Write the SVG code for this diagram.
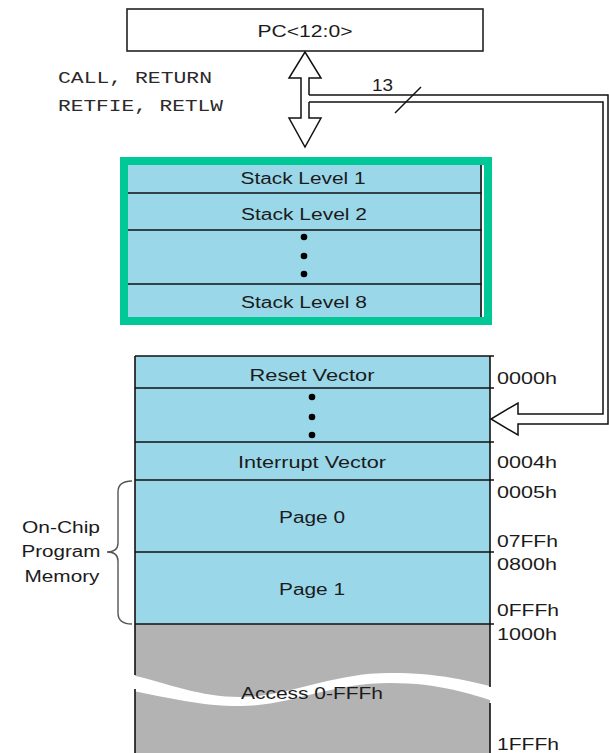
<svg xmlns="http://www.w3.org/2000/svg" width="609" height="753" viewBox="0 0 609 753">
<style>
.t{font-family:"Liberation Sans",Arial,sans-serif;font-size:16px;fill:#1b1b1b}
.m{font-family:"Liberation Mono","Courier New",monospace;font-size:17px;fill:#2a2a2a}
.c{text-anchor:middle}
.ln{stroke:#111;stroke-width:1.6;fill:none}
.blue{fill:#9ad8e9}
.gray{fill:#b3b3b3}
.dot{fill:#000}
</style>
<rect x="0" y="0" width="609" height="753" fill="#fff"/>

<g id="pc">
  <rect x="127" y="9" width="356" height="42" fill="#fff" stroke="#222" stroke-width="1.6"/>
  <text class="t c" x="305" y="37" textLength="95" lengthAdjust="spacingAndGlyphs">PC&lt;12:0&gt;</text>
</g>

<g id="instr-label">
  <text class="m" x="58" y="83" textLength="154" lengthAdjust="spacingAndGlyphs">CALL, RETURN</text>
  <text class="m" x="58" y="111" textLength="165" lengthAdjust="spacingAndGlyphs">RETFIE, RETLW</text>
</g>

<g id="stack">
  <rect class="blue" x="128" y="165" width="354" height="152"/>
  <line class="ln" x1="128" y1="193" x2="482" y2="193"/>
  <line class="ln" x1="128" y1="230" x2="482" y2="230"/>
  <line class="ln" x1="128" y1="284" x2="482" y2="284"/>
  <line class="ln" x1="481" y1="165" x2="481" y2="317"/>
  <text class="t c" x="303" y="184" textLength="125" lengthAdjust="spacingAndGlyphs">Stack Level 1</text>
  <text class="t c" x="304" y="220" textLength="126" lengthAdjust="spacingAndGlyphs">Stack Level 2</text>
  <circle class="dot" cx="304" cy="237" r="3.3"/>
  <circle class="dot" cx="304" cy="256" r="3.3"/>
  <circle class="dot" cx="304" cy="274" r="3.3"/>
  <text class="t c" x="304" y="308" textLength="126" lengthAdjust="spacingAndGlyphs">Stack Level 8</text>
  <rect x="124" y="161" width="364" height="160" fill="none" stroke="#00c896" stroke-width="8"/>
</g>

<g id="memory">
  <rect class="blue" x="135" y="356" width="355" height="268"/>
  <rect class="gray" x="135" y="624" width="355" height="129"/>
  <path d="M128,674 C170,684 200,697 240,697 C290,697 330,673 390,673 C440,673 470,681 497,688 L497,702 C470,694 440,683 390,683 C330,683 290,706 240,706 C200,706 170,698 128,690 Z" fill="#fff"/>
  <line class="ln" x1="135" y1="356" x2="494" y2="356"/>
  <line class="ln" x1="135" y1="388" x2="494" y2="388"/>
  <line class="ln" x1="135" y1="442" x2="494" y2="442"/>
  <line class="ln" x1="135" y1="480" x2="494" y2="480"/>
  <line class="ln" x1="135" y1="552" x2="494" y2="552"/>
  <line class="ln" x1="135" y1="624" x2="494" y2="624"/>
  <line class="ln" x1="135" y1="356" x2="135" y2="675"/>
  <line class="ln" x1="135" y1="689" x2="135" y2="753"/>
  <line class="ln" x1="490" y1="356" x2="490" y2="687"/>
  <line class="ln" x1="490" y1="703" x2="490" y2="753"/>
  <text class="t c" x="312" y="381" textLength="125" lengthAdjust="spacingAndGlyphs">Reset Vector</text>
  <circle class="dot" cx="312" cy="397" r="3.3"/>
  <circle class="dot" cx="312" cy="417" r="3.3"/>
  <circle class="dot" cx="312" cy="435" r="3.3"/>
  <text class="t c" x="312" y="468" textLength="148" lengthAdjust="spacingAndGlyphs">Interrupt Vector</text>
  <text class="t c" x="312" y="523" textLength="66" lengthAdjust="spacingAndGlyphs">Page 0</text>
  <text class="t c" x="312" y="595" textLength="66" lengthAdjust="spacingAndGlyphs">Page 1</text>
  <text class="t c" x="312" y="699" textLength="142" lengthAdjust="spacingAndGlyphs">Access 0-FFFh</text>
</g>

<g id="addresses">
  <text class="t" x="497" y="384" textLength="60" lengthAdjust="spacingAndGlyphs">0000h</text>
  <text class="t" x="497" y="468" textLength="60" lengthAdjust="spacingAndGlyphs">0004h</text>
  <text class="t" x="497" y="498" textLength="60" lengthAdjust="spacingAndGlyphs">0005h</text>
  <text class="t" x="497" y="547" textLength="61" lengthAdjust="spacingAndGlyphs">07FFh</text>
  <text class="t" x="497" y="570" textLength="60" lengthAdjust="spacingAndGlyphs">0800h</text>
  <text class="t" x="497" y="616" textLength="62" lengthAdjust="spacingAndGlyphs">0FFFh</text>
  <text class="t" x="497" y="640" textLength="60" lengthAdjust="spacingAndGlyphs">1000h</text>
  <text class="t" x="497" y="750" textLength="62" lengthAdjust="spacingAndGlyphs">1FFFh</text>
</g>

<g id="program-memory-label">
  <path d="M132,481 Q118,481 118,492 L118,543 Q118,552 107,552 Q118,552 118,561 L118,613 Q118,624 132,624" fill="none" stroke="#555" stroke-width="1.4"/>
  <text class="t c" x="61" y="533" textLength="78" lengthAdjust="spacingAndGlyphs">On-Chip</text>
  <text class="t c" x="61" y="557" textLength="79" lengthAdjust="spacingAndGlyphs">Program</text>
  <text class="t c" x="62" y="582" textLength="75" lengthAdjust="spacingAndGlyphs">Memory</text>
</g>

<g id="connectors">
  <path d="M309,95 L309,78 L321,78 L305,52 L289,78 L301,78 L301,118 L289,118 L305,147 L321,118 L309,118 L309,102" fill="#fff" stroke="#111" stroke-width="1.5" stroke-linejoin="miter"/>
  <path d="M309,95 L608,95 L608,424 L518,424 L518,435 L491,419 L518,403 L518,414 L603,414 L603,102 L309,102" fill="none" stroke="#111" stroke-width="1.5"/>
  <line x1="395" y1="113" x2="421" y2="87" stroke="#111" stroke-width="1.5"/>
  <text class="t" x="372" y="91" textLength="21" lengthAdjust="spacingAndGlyphs">13</text>
</g>
</svg>
